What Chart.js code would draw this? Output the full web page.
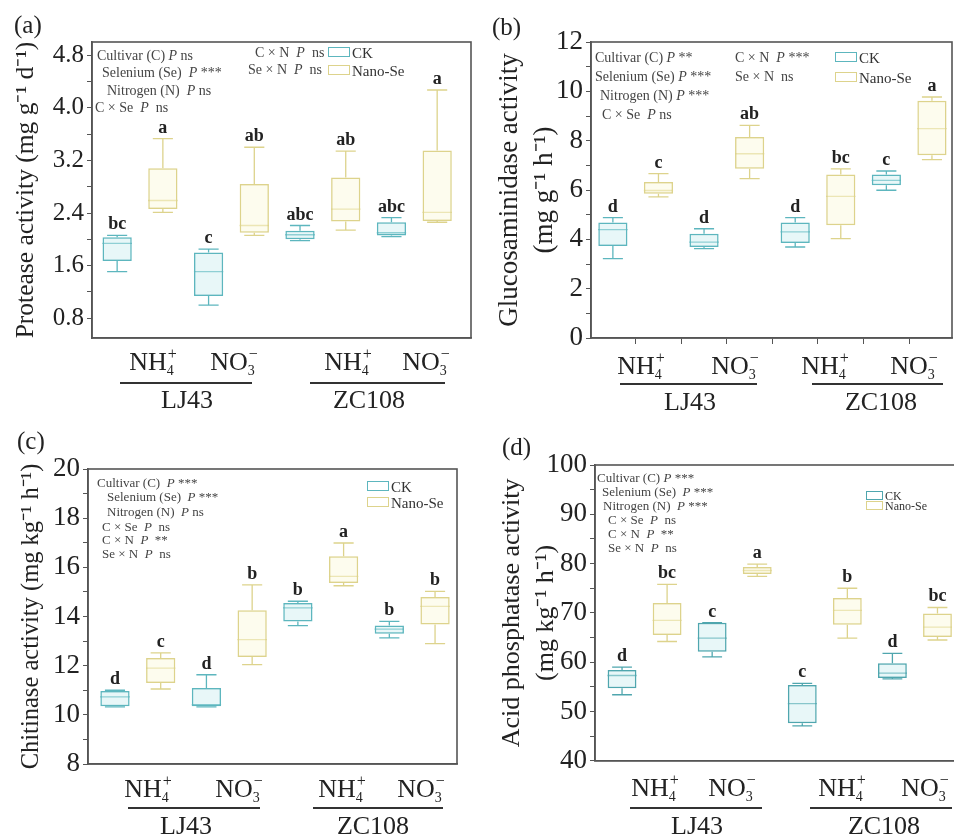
<!DOCTYPE html>
<html>
<head>
<meta charset="utf-8">
<script src="https://cdn.jsdelivr.net/npm/chart.js@4.4.1/dist/chart.umd.min.js"></script>
<style>
body { margin: 0; width: 954px; height: 839px; overflow: hidden; background: #fff; position: relative;
  font-family: "Liberation Serif", "Times New Roman", serif; color: #222; }
.panel { position: absolute; }
.tag { position: absolute; font-size: 25px; line-height: 25px; }
.xl { position: absolute; font-size: 26px; line-height: 26px; transform: translateX(-50%); white-space: nowrap; }
.xl .ss { display: inline-block; position: relative; width: 10px; height: 10px; }
.xl .ss .up { position: absolute; left: 1px; top: -14px; font-size: 16px; line-height: 16px; }
.xl .ss .dn { position: absolute; left: 0; top: 4px; font-size: 14px; line-height: 14px; }
.line { position: absolute; border-top: 2px solid #333; height: 0; }
.ann { position: absolute; font-size: 14px; line-height: 14px; color: #444; white-space: pre; }
.ann.s { font-size: 13px; line-height: 13px; }
.lg { position: absolute; font-size: 15px; line-height: 15px; color: #333; white-space: nowrap; }
.lg.s { font-size: 12px; line-height: 12px; }
.lg span { display: inline-block; width: 20px; height: 8px; margin-right: 2px; vertical-align: 1px; }
.lg.s span { width: 15px; height: 7px; vertical-align: 0; }
</style>
</head>
<body>

<div class="panel" style="left:0;top:0;width:480px;height:360px"><canvas id="chartA"></canvas></div>
<div class="panel" style="left:480px;top:0;width:474px;height:360px"><canvas id="chartB"></canvas></div>
<div class="panel" style="left:0;top:420px;width:480px;height:364px"><canvas id="chartC"></canvas></div>
<div class="panel" style="left:480px;top:420px;width:480px;height:360px"><canvas id="chartD"></canvas></div>

<!-- panel tags -->
<div class="tag" style="left:14px;top:12px">(a)</div>
<div class="tag" style="left:492px;top:14px">(b)</div>
<div class="tag" style="left:17px;top:428px">(c)</div>
<div class="tag" style="left:502px;top:434px">(d)</div>

<!-- (a) notes -->
<div class="ann" style="left:97px;top:49px">Cultivar (C) <i>P</i> ns</div>
<div class="ann" style="left:102px;top:66px">Selenium (Se)  <i>P</i> ***</div>
<div class="ann" style="left:107px;top:84px">Nitrogen (N)  <i>P</i> ns</div>
<div class="ann" style="left:95px;top:101px">C × Se  <i>P</i>  ns</div>
<div class="ann" style="left:255px;top:46px">C × N  <i>P</i>  ns</div>
<div class="ann" style="left:248px;top:63px">Se × N  <i>P</i>  ns</div>
<div class="lg" style="left:328px;top:46px"><span style="border:1px solid #5db6be"></span>CK</div>
<div class="lg" style="left:328px;top:64px"><span style="border:1px solid #ddd38c"></span>Nano-Se</div>

<!-- (b) notes -->
<div class="ann" style="left:595px;top:51px">Cultivar (C) <i>P</i> **</div>
<div class="ann" style="left:595px;top:70px">Selenium (Se) <i>P</i> ***</div>
<div class="ann" style="left:600px;top:89px">Nitrogen (N) <i>P</i> ***</div>
<div class="ann" style="left:602px;top:108px">C × Se  <i>P</i> ns</div>
<div class="ann" style="left:735px;top:51px">C × N  <i>P</i> ***</div>
<div class="ann" style="left:735px;top:70px">Se × N  ns</div>
<div class="lg" style="left:835px;top:51px"><span style="border:1px solid #5db6be"></span>CK</div>
<div class="lg" style="left:835px;top:71px"><span style="border:1px solid #ddd38c"></span>Nano-Se</div>

<!-- (c) notes -->
<div class="ann s" style="left:97px;top:476px">Cultivar (C)  <i>P</i> ***</div>
<div class="ann s" style="left:107px;top:490px">Selenium (Se)  <i>P</i> ***</div>
<div class="ann s" style="left:107px;top:505px">Nitrogen (N)  <i>P</i> ns</div>
<div class="ann s" style="left:102px;top:520px">C × Se  <i>P</i>  ns</div>
<div class="ann s" style="left:102px;top:533px">C × N  <i>P</i>  **</div>
<div class="ann s" style="left:102px;top:547px">Se × N  <i>P</i>  ns</div>
<div class="lg" style="left:367px;top:480px"><span style="border:1px solid #5db6be"></span>CK</div>
<div class="lg" style="left:367px;top:496px"><span style="border:1px solid #ddd38c"></span>Nano-Se</div>

<!-- (d) notes -->
<div class="ann s" style="left:597px;top:471px">Cultivar (C) <i>P</i> ***</div>
<div class="ann s" style="left:602px;top:485px">Selenium (Se)  <i>P</i> ***</div>
<div class="ann s" style="left:603px;top:499px">Nitrogen (N)  <i>P</i> ***</div>
<div class="ann s" style="left:608px;top:513px">C × Se  <i>P</i>  ns</div>
<div class="ann s" style="left:608px;top:527px">C × N  <i>P</i>  **</div>
<div class="ann s" style="left:608px;top:541px">Se × N  <i>P</i>  ns</div>
<div class="lg s" style="left:866px;top:490px"><span style="border:1px solid #4fa6ae"></span>CK</div>
<div class="lg s" style="left:866px;top:500px"><span style="border:1px solid #ddd38c"></span>Nano-Se</div>

<!-- x group labels -->
<div class="xl" style="left:153px;top:349px">NH<span class="ss"><span class="up">+</span><span class="dn">4</span></span></div>
<div class="xl" style="left:234px;top:349px">NO<span class="ss"><span class="up">−</span><span class="dn">3</span></span></div>
<div class="line" style="left:120px;top:382px;width:132px"></div>
<div class="xl" style="left:187px;top:387px">LJ43</div>
<div class="xl" style="left:348px;top:349px">NH<span class="ss"><span class="up">+</span><span class="dn">4</span></span></div>
<div class="xl" style="left:426px;top:349px">NO<span class="ss"><span class="up">−</span><span class="dn">3</span></span></div>
<div class="line" style="left:310px;top:382px;width:135px"></div>
<div class="xl" style="left:369px;top:387px">ZC108</div>

<div class="xl" style="left:641px;top:353px">NH<span class="ss"><span class="up">+</span><span class="dn">4</span></span></div>
<div class="xl" style="left:735px;top:353px">NO<span class="ss"><span class="up">−</span><span class="dn">3</span></span></div>
<div class="line" style="left:620px;top:383px;width:137px"></div>
<div class="xl" style="left:690px;top:389px">LJ43</div>
<div class="xl" style="left:825px;top:353px">NH<span class="ss"><span class="up">+</span><span class="dn">4</span></span></div>
<div class="xl" style="left:914px;top:353px">NO<span class="ss"><span class="up">−</span><span class="dn">3</span></span></div>
<div class="line" style="left:812px;top:383px;width:131px"></div>
<div class="xl" style="left:881px;top:389px">ZC108</div>

<div class="xl" style="left:148px;top:776px">NH<span class="ss"><span class="up">+</span><span class="dn">4</span></span></div>
<div class="xl" style="left:239px;top:776px">NO<span class="ss"><span class="up">−</span><span class="dn">3</span></span></div>
<div class="line" style="left:128px;top:807px;width:132px"></div>
<div class="xl" style="left:186px;top:813px">LJ43</div>
<div class="xl" style="left:342px;top:776px">NH<span class="ss"><span class="up">+</span><span class="dn">4</span></span></div>
<div class="xl" style="left:421px;top:776px">NO<span class="ss"><span class="up">−</span><span class="dn">3</span></span></div>
<div class="line" style="left:313px;top:807px;width:130px"></div>
<div class="xl" style="left:373px;top:813px">ZC108</div>

<div class="xl" style="left:655px;top:775px">NH<span class="ss"><span class="up">+</span><span class="dn">4</span></span></div>
<div class="xl" style="left:732px;top:775px">NO<span class="ss"><span class="up">−</span><span class="dn">3</span></span></div>
<div class="line" style="left:630px;top:807px;width:132px"></div>
<div class="xl" style="left:697px;top:813px">LJ43</div>
<div class="xl" style="left:842px;top:775px">NH<span class="ss"><span class="up">+</span><span class="dn">4</span></span></div>
<div class="xl" style="left:925px;top:775px">NO<span class="ss"><span class="up">−</span><span class="dn">3</span></span></div>
<div class="line" style="left:810px;top:807px;width:142px"></div>
<div class="xl" style="left:884px;top:813px">ZC108</div>

<script>
// box order: LJ43 NH4 CK, LJ43 NH4 Nano-Se, LJ43 NO3 CK, LJ43 NO3 Nano-Se, then same for ZC108
var xPos = [1, 2, 3, 4, 5, 6, 7, 8];
var treatment = ['CK', 'Nano-Se', 'CK', 'Nano-Se', 'CK', 'Nano-Se', 'CK', 'Nano-Se'];

// (a) protease activity
var proMin = [1.51, 2.41, 1.00, 2.06, 1.98, 2.14, 2.04, 2.26];
var proQ1 = [1.67, 2.46, 1.14, 2.10, 2.00, 2.27, 2.06, 2.28];
var proMed = [1.94, 2.59, 1.51, 2.21, 2.07, 2.46, 2.10, 2.41];
var proQ3 = [2.03, 3.08, 1.80, 2.84, 2.13, 2.94, 2.26, 3.35];
var proMax = [2.06, 3.53, 1.85, 3.40, 2.21, 3.34, 2.33, 4.27];
var proLetters = ['bc', 'a', 'c', 'ab', 'abc', 'ab', 'abc', 'a'];
var proTicks = [0.8, 1.2, 1.6, 2.0, 2.4, 2.8, 3.2, 3.6, 4.0, 4.4, 4.8];

// (b) glucosaminidase activity
var gluMin = [3.22, 5.72, 3.62, 6.46, 3.69, 4.03, 5.99, 7.23];
var gluQ1 = [3.73, 5.85, 3.69, 6.86, 3.85, 4.57, 6.19, 7.41];
var gluMed = [4.39, 5.98, 3.89, 7.47, 4.30, 5.74, 6.39, 8.49];
var gluQ3 = [4.68, 6.32, 4.23, 8.15, 4.68, 6.63, 6.63, 9.62];
var gluMax = [4.88, 6.66, 4.43, 8.62, 4.88, 6.86, 6.77, 9.77];
var gluLetters = ['d', 'c', 'd', 'ab', 'd', 'bc', 'c', 'a'];
var gluTicks = [0, 1, 2, 3, 4, 5, 6, 7, 8, 9, 10, 11, 12];

// (c) chitinase activity
var chiMin = [10.32, 11.05, 10.32, 12.04, 13.63, 15.25, 13.13, 12.90];
var chiQ1 = [10.35, 11.30, 10.35, 12.35, 13.80, 15.36, 13.30, 13.67];
var chiMed = [10.73, 11.90, 10.41, 13.06, 14.35, 15.63, 13.49, 14.41];
var chiQ3 = [10.97, 12.31, 11.09, 14.25, 14.55, 16.45, 13.63, 14.79];
var chiMax = [11.00, 12.52, 11.63, 15.29, 14.62, 16.99, 13.80, 15.02];
var chiLetters = ['d', 'c', 'd', 'b', 'b', 'a', 'b', 'b'];
var chiTicks = [8, 9, 10, 11, 12, 13, 14, 15, 16, 17, 18, 19, 20];

// (d) acid phosphatase activity
var acpMin = [53.4, 64.2, 61.1, 77.4, 47.1, 64.9, 56.6, 64.5];
var acpQ1 = [54.7, 65.5, 62.1, 77.9, 47.6, 67.6, 56.8, 65.1];
var acpMed = [57.3, 68.5, 64.9, 78.6, 51.6, 70.5, 57.8, 67.1];
var acpQ3 = [58.4, 72.0, 68.0, 79.3, 55.4, 73.0, 59.8, 69.9];
var acpMax = [59.0, 75.8, 68.0, 79.9, 55.7, 75.0, 61.8, 71.1];
var acpLetters = ['d', 'bc', 'c', 'a', 'c', 'b', 'd', 'bc'];
var acpTicks = [40, 45, 50, 55, 60, 65, 70, 75, 80, 85, 90, 95, 100];

Chart.defaults.font.family = "'Liberation Serif', 'Times New Roman', serif";
Chart.defaults.color = '#222';

var frame = {
    id: 'frame',
    afterDraw: function (chart) {
        var a = chart.chartArea, ctx = chart.ctx;
        ctx.save();
        ctx.strokeStyle = '#555';
        ctx.lineWidth = 1.6;
        ctx.strokeRect(a.left, a.top, a.right - a.left, a.bottom - a.top);
        ctx.restore();
    }
};

var letterPlugin = {
    id: 'letters',
    afterDatasetsDraw: function (chart, args, opts) {
        var ctx = chart.ctx, xs = chart.scales.x, ys = chart.scales.y;
        ctx.save();
        ctx.font = 'bold 18px "Liberation Serif"';
        ctx.fillStyle = '#222';
        ctx.textAlign = 'center';
        ctx.textBaseline = 'alphabetic';
        for (var i = 0; i < opts.text.length; i++) {
            ctx.fillText(opts.text[i], xs.getPixelForValue(xPos[i]), ys.getPixelForValue(opts.top[i]) - 6);
        }
        ctx.restore();
    }
};

function boxChart(id, lo, q1, med, q3, hi, letters, ticks, cfg) {
    var boxes = [], ck = [], nano = [];
    var half = 0.32, cap = 0.22;
    var border = [], fill = [];
    for (var i = 0; i < xPos.length; i++) {
        var x = xPos[i];
        var isCK = treatment[i] === 'CK';
        boxes.push({ x: x, y: [q1[i], q3[i]] });
        border.push(isCK ? cfg.ckColor : '#ddd38c');
        fill.push(isCK ? 'rgba(205,238,240,0.45)' : 'rgba(252,249,222,0.5)');
        var seg = isCK ? ck : nano;
        seg.push({ x: x, y: lo[i] }, { x: x, y: q1[i] }, { x: x, y: null },
            { x: x, y: q3[i] }, { x: x, y: hi[i] }, { x: x, y: null },
            { x: x - cap, y: lo[i] }, { x: x + cap, y: lo[i] }, { x: x, y: null },
            { x: x - cap, y: hi[i] }, { x: x + cap, y: hi[i] }, { x: x, y: null },
            { x: x - half, y: med[i] }, { x: x + half, y: med[i] }, { x: x, y: null });
    }

    var ctx = document.getElementById(id).getContext('2d');
    return new Chart(ctx, {
        type: 'bar',
        data: {
            datasets: [{
                type: 'bar',
                label: 'box',
                data: boxes,
                backgroundColor: fill,
                borderColor: border,
                borderWidth: 1.5,
                borderSkipped: false,
                categoryPercentage: 1,
                barPercentage: 0.64
            }, {
                type: 'line',
                label: 'CK',
                data: ck,
                borderColor: cfg.ckColor,
                borderWidth: 1.3,
                pointRadius: 0,
                fill: false,
                spanGaps: false
            }, {
                type: 'line',
                label: 'Nano-Se',
                data: nano,
                borderColor: '#ddd38c',
                borderWidth: 1.3,
                pointRadius: 0,
                fill: false,
                spanGaps: false
            }]
        },
        options: {
            responsive: true,
            maintainAspectRatio: false,
            animation: false,
            layout: { padding: cfg.pad },
            plugins: {
                legend: { display: false },
                tooltip: { enabled: false },
                letters: { text: letters, top: hi }
            },
            scales: {
                x: {
                    type: 'linear',
                    min: cfg.xMin,
                    max: cfg.xMax,
                    offset: false,
                    afterBuildTicks: function (s) { s.ticks = xPos.map(function (v) { return { value: v }; }); },
                    afterFit: function (s) { s.height = 16; },
                    ticks: { display: cfg.xTicks, autoSkip: false, callback: function () { return ''; } },
                    grid: { display: cfg.xTicks, drawOnChartArea: false, tickLength: 6, color: '#555' },
                    border: { display: true, color: '#555', width: 1.6 }
                },
                y: {
                    min: cfg.yMin,
                    max: cfg.yMax,
                    afterBuildTicks: function (s) { s.ticks = ticks.map(function (v) { return { value: v }; }); },
                    afterFit: function (s) { s.width = cfg.yWidth; },
                    ticks: {
                        autoSkip: false,
                        padding: 3,
                        color: '#222',
                        font: { size: cfg.tickSize },
                        callback: function (v, i) { return i % 2 === 0 ? v.toFixed(cfg.dec) : ''; }
                    },
                    grid: { drawOnChartArea: false, tickLength: 5, color: '#555' },
                    border: { color: '#555', width: 1.6 },
                    title: {
                        display: true,
                        text: cfg.title,
                        color: '#222',
                        font: { size: cfg.titleSize, lineHeight: 1.3 },
                        padding: { top: cfg.titlePad, bottom: 0 }
                    }
                }
            }
        },
        plugins: [frame, letterPlugin]
    });
}

boxChart('chartA', proMin, proQ1, proMed, proQ3, proMax, proLetters, proTicks, {
    xMin: 0.45, xMax: 8.74, yMin: 0.5, yMax: 5.0, dec: 1, tickSize: 25, yWidth: 92,
    pad: { left: 0, top: 42, right: 9, bottom: 6 }, xTicks: false, ckColor: '#5db6be',
    title: 'Protease activity (mg g⁻¹ d⁻¹)', titleSize: 25.5, titlePad: 10
});

boxChart('chartB', gluMin, gluQ1, gluMed, gluQ3, gluMax, gluLetters, gluTicks, {
    xMin: 0.52, xMax: 8.44, yMin: 0, yMax: 12, dec: 0, tickSize: 27, yWidth: 111,
    pad: { left: 0, top: 42, right: 2, bottom: 6 }, xTicks: true, ckColor: '#5db6be',
    title: ['Glucosaminidase activity', '(mg g⁻¹ h⁻¹)'], titleSize: 27, titlePad: 12
});

boxChart('chartC', chiMin, chiQ1, chiMed, chiQ3, chiMax, chiLetters, chiTicks, {
    xMin: 0.41, xMax: 8.48, yMin: 8, yMax: 20, dec: 0, tickSize: 27, yWidth: 88,
    pad: { left: 0, top: 49, right: 23, bottom: 4 }, xTicks: false, ckColor: '#5db6be',
    title: 'Chitinase activity (mg kg⁻¹ h⁻¹)', titleSize: 24.5, titlePad: 16
});

boxChart('chartD', acpMin, acpQ1, acpMed, acpQ3, acpMax, acpLetters, acpTicks, {
    xMin: 0.4, xMax: 8.5, yMin: 40, yMax: 100, dec: 0, tickSize: 27, yWidth: 115,
    pad: { left: 0, top: 45, right: 0, bottom: 3 }, xTicks: false, ckColor: '#4fa6ae',
    title: ['Acid phosphatase activity', '(mg kg⁻¹ h⁻¹)'], titleSize: 26, titlePad: 15
});
</script>
</body>
</html>
